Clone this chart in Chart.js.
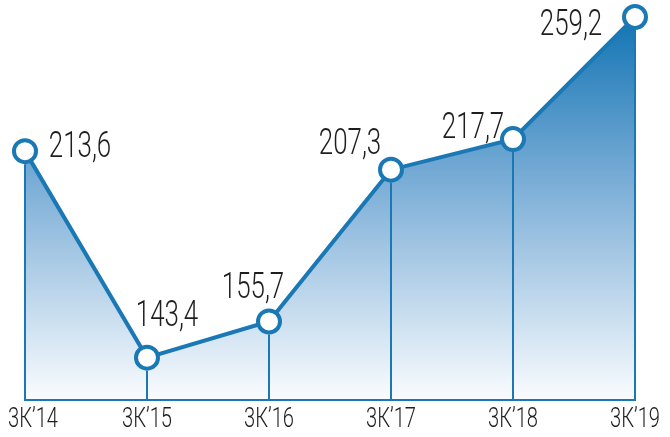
<!DOCTYPE html>
<html>
<head>
<meta charset="utf-8">
<script src="https://cdn.jsdelivr.net/npm/chart.js@4/dist/chart.umd.min.js"></script>
<style>
  html,body{margin:0;padding:0;background:#fff;}
  #wrap{width:670px;height:437px;position:relative;}
</style>
</head>
<body>
<div id="wrap"><canvas id="c"></canvas></div>
<script>
// данные
const quarters = ['3К’14','3К’15','3К’16','3К’17','3К’18','3К’19'];
const values = [213.6, 143.4, 155.7, 207.3, 217.7, 259.2];
const valueLabels = ['213,6','143,4','155,7','207,3','217,7','259,2'];
// смещения центров подписей относительно точки (px)
const labelOffsets = [[55,-7],[20,-45],[-16,-36],[-41,-29],[-40,-14],[-64,5]];

const BLUE = '#1a78b5';
const TEXT = '#1e1e1e';
const SQUEEZE = 0.72; // узкий шрифт: сжимаем по горизонтали

function narrowText(ctx, str, x, y, font){
  ctx.save();
  ctx.font = font;
  ctx.translate(x, y);
  ctx.scale(SQUEEZE, 1);
  ctx.fillText(str, 0, 0);
  ctx.restore();
}

// вертикальные линии от точек до основания — поверх заливки, под кружками
const dropLines = {
  id:'dropLines',
  afterDatasetsDraw(chart){
    const {ctx, chartArea} = chart;
    const meta = chart.getDatasetMeta(0);
    ctx.save();
    ctx.strokeStyle = BLUE; ctx.lineWidth = 2;
    meta.data.forEach(p=>{
      ctx.beginPath(); ctx.moveTo(p.x, p.y + 13); ctx.lineTo(p.x, chartArea.bottom); ctx.stroke();
    });
    ctx.beginPath(); ctx.moveTo(chartArea.left - 1, chartArea.bottom); ctx.lineTo(chartArea.right + 1, chartArea.bottom); ctx.stroke();
    ctx.restore();
  }
};

const textLabels = {
  id:'textLabels',
  afterDatasetsDraw(chart){
    const {ctx, chartArea} = chart;
    const meta = chart.getDatasetMeta(0);
    const xs = chart.scales.x;
    ctx.save();
    ctx.fillStyle = TEXT;
    ctx.textAlign = 'center'; ctx.textBaseline = 'alphabetic';
    meta.data.forEach((p,i)=>{
      const o = labelOffsets[i];
      narrowText(ctx, valueLabels[i], p.x + o[0], p.y + o[1] + 13, '300 36px Roboto, sans-serif');
    });
    const tf = '300 28px Roboto, sans-serif';
    ctx.font = tf;
    quarters.forEach((q,i)=>{
      const w = ctx.measureText(q).width * SQUEEZE;
      let x = xs.getPixelForValue(i);
      x = Math.max(x, 8 + w/2);
      x = Math.min(x, chart.width - 6 - w/2);
      narrowText(ctx, q, x, chartArea.bottom + 27, tf);
    });
    ctx.restore();
  }
};

new Chart(document.getElementById('c'), {
  type:'line',
  data:{ labels: quarters, datasets:[{
    data: values, clip: false,
    borderColor: BLUE, borderWidth: 4, tension: 0,
    pointRadius: 11, pointBorderWidth: 4, pointBackgroundColor:'#fff', pointBorderColor: BLUE,
    fill: 'start',
    backgroundColor(ctx){
      const ca = ctx.chart.chartArea;
      if(!ca) return 'rgba(26,120,181,0.4)';
      const g = ctx.chart.ctx.createLinearGradient(0, ca.top, 0, ca.bottom);
      g.addColorStop(0, '#1274b3');
      g.addColorStop(0.45, '#7fb0d8');
      g.addColorStop(1, '#fafcfe');
      return g;
    }
  }]},
  options:{
    responsive:true, maintainAspectRatio:false, animation:false,
    layout:{ padding:{ left:25, right:35, top:17, bottom:37 } },
    plugins:{ legend:{ display:false }, tooltip:{ enabled:false } },
    scales:{
      x:{ display:false, offset:false },
      y:{ display:false, min:129, max:259.2 }
    }
  },
  plugins:[dropLines, textLabels]
});
</script>
</body>
</html>
